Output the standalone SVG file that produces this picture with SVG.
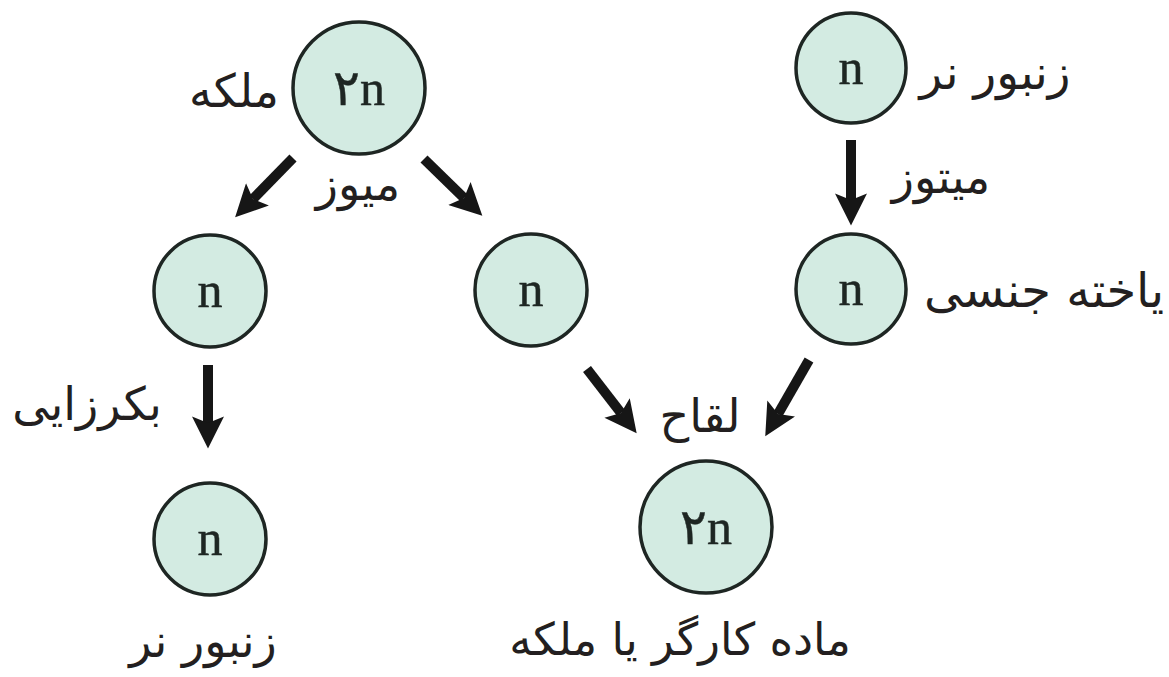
<svg xmlns="http://www.w3.org/2000/svg" width="1169" height="677" viewBox="0 0 1169 677">
<style>
.cell{fill:#d3ebe2;stroke:#1e2623;stroke-width:3.5}
.sym{font-family:"Liberation Serif","DejaVu Sans",serif;font-size:50px;fill:#1e2623;text-anchor:middle;stroke:#1e2623;stroke-width:0.5}
.lbl{font-family:"DejaVu Sans",sans-serif;font-size:46px;fill:#231f20;text-anchor:middle}
.arr{stroke:#161616;stroke-width:10;fill:none;marker-end:url(#head)}
</style>
<defs>
<marker id="head" viewBox="0 0 10 10" markerWidth="3.4" markerHeight="3.2" refX="2" refY="5" orient="auto" markerUnits="strokeWidth">
<path d="M0,0 L10,5 L0,10 L2,5 z" fill="#161616"/>
</marker>
</defs>
<rect width="1169" height="677" fill="#ffffff"/>
<g id="connectors">
<line class="arr" x1="293" y1="158" x2="253" y2="199"/>
<line class="arr" x1="424" y1="159" x2="464" y2="198"/>
<line class="arr" x1="851" y1="140" x2="851" y2="200"/>
<line class="arr" x1="208" y1="365" x2="208" y2="423"/>
<line class="arr" x1="587" y1="369" x2="621" y2="413"/>
<line class="arr" x1="809" y1="360" x2="778" y2="414"/>
</g>
<g id="queen"><circle class="cell" cx="359" cy="88" r="66"/><text class="sym" x="359" y="105">۲n</text></g>
<g id="drone-top"><circle class="cell" cx="851" cy="68" r="55"/><text class="sym" x="851" y="84">n</text></g>
<g id="egg-left"><circle class="cell" cx="210" cy="291" r="56"/><text class="sym" x="210" y="307">n</text></g>
<g id="egg-mid"><circle class="cell" cx="531" cy="290" r="56"/><text class="sym" x="531" y="306">n</text></g>
<g id="sperm"><circle class="cell" cx="851" cy="289" r="55"/><text class="sym" x="851" y="305">n</text></g>
<g id="drone-bottom"><circle class="cell" cx="210" cy="539" r="56"/><text class="sym" x="210" y="555">n</text></g>
<g id="zygote"><circle class="cell" cx="706" cy="527" r="66"/><text class="sym" x="706" y="544">۲n</text></g>
<g id="labels">
<text class="lbl" x="234" y="107">ملکه</text>
<text class="lbl" x="358" y="200">میوز</text>
<text class="lbl" x="995" y="89" style="font-size:47px">زنبور نر</text>
<text class="lbl" x="941" y="193">میتوز</text>
<text class="lbl" x="1044" y="307" style="font-size:48px">یاخته جنسی</text>
<text class="lbl" x="700" y="432">لقاح</text>
<text class="lbl" x="87" y="420">بکرزایی</text>
<text class="lbl" x="203" y="657">زنبور نر</text>
<text class="lbl" x="680" y="655" style="font-size:45px">ماده کارگر یا ملکه</text>
</g>
</svg>
